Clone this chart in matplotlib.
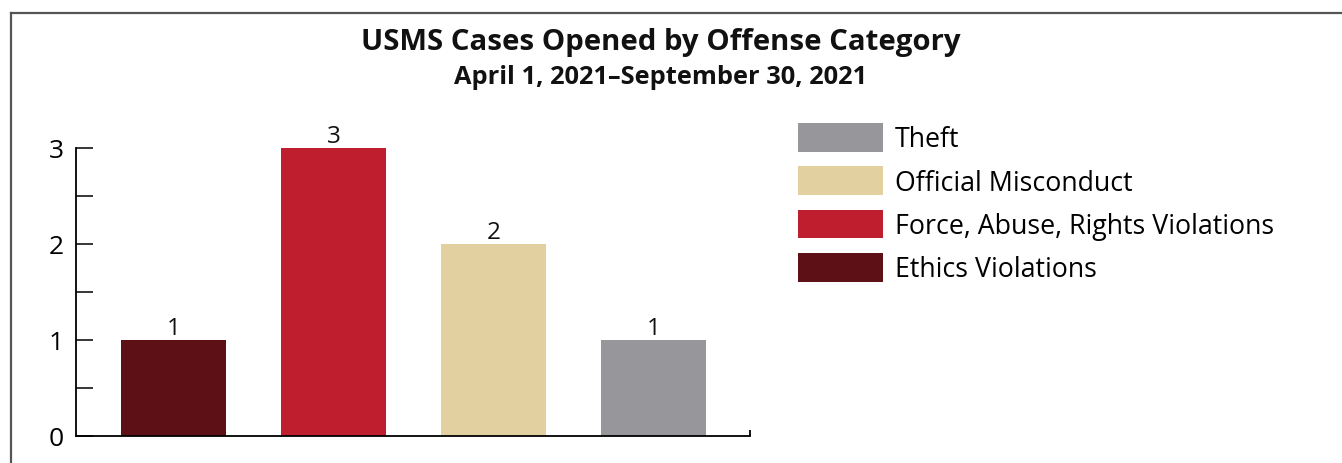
import matplotlib
matplotlib.use("Agg")
import matplotlib.pyplot as plt
from matplotlib.lines import Line2D
from matplotlib.patches import Patch

plt.rcParams['font.family'] = ['Open Sans', 'DejaVu Sans']

categories = ["Ethics Violations", "Force, Abuse, Rights Violations", "Official Misconduct", "Theft"]
values = [1, 3, 2, 1]
colors = ["#5E1017", "#BE1E2D", "#E3D0A0", "#97979B"]
legend_order = ["Theft", "Official Misconduct", "Force, Abuse, Rights Violations", "Ethics Violations"]
yticks = [0, 1, 2, 3]
title = "USMS Cases Opened by Offense Category"
subtitle = "April 1, 2021\u2013September 30, 2021"

W, H = 1342, 464
fig = plt.figure(figsize=(W / 100, H / 100), dpi=100)
ax = fig.add_axes([76 / W, 1 - 437 / H, (750 - 76) / W, (437 - 149) / H])

x = list(range(len(categories)))
ax.bar(x, values, width=0.656, color=colors, zorder=2)
for xi, v in zip(x, values):
    ax.annotate(str(v), (xi, v), xytext=(0, 0), textcoords="offset points",
                ha="center", va="bottom", fontsize=17.5, color="#111111")

ax.set_xlim(-0.609, 3.603)
ax.set_ylim(0, 3)
for s in ["top", "right"]:
    ax.spines[s].set_visible(False)
for s in ["left", "bottom"]:
    ax.spines[s].set_linewidth(1.3)
    ax.spines[s].set_color("black")
ax.set_yticks(yticks)
ax.set_yticks([0.5, 1.5, 2.5], minor=True)
ax.tick_params(axis="y", which="both", direction="in", length=12, width=1.1,
               labelsize=19, pad=9, colors="black")
ax.set_xticks([3.603])
ax.set_xticklabels([""])
ax.tick_params(axis="x", direction="in", length=4.5, width=1.3)

fig.text(661 / W, 1 - 50 / H, title, ha="center", va="baseline",
         fontsize=21.2, fontweight="bold", color="#111111")
fig.text(661 / W, 1 - 84 / H, subtitle, ha="center", va="baseline",
         fontsize=18.3, fontweight="bold", color="#111111")

cmap = dict(zip(categories, colors))
handles = [Patch(facecolor=cmap[c], edgecolor="none", label=c) for c in legend_order]
fig.legend(handles=handles, loc="upper left", bbox_to_anchor=(798 / W, 1 - 124 / H),
           frameon=False, fontsize=19.3, handlelength=3.17, handleheight=1.28,
           handletextpad=0.45, labelspacing=0.48, borderpad=0, borderaxespad=0)

fig.add_artist(Line2D([11 / W, 1], [1 - 14 / H, 1 - 14 / H], color="#555555", lw=1.6))
fig.add_artist(Line2D([11 / W, 11 / W], [0, 1 - 14 / H], color="#555555", lw=1.6))

fig.savefig("out.png", dpi=100)
